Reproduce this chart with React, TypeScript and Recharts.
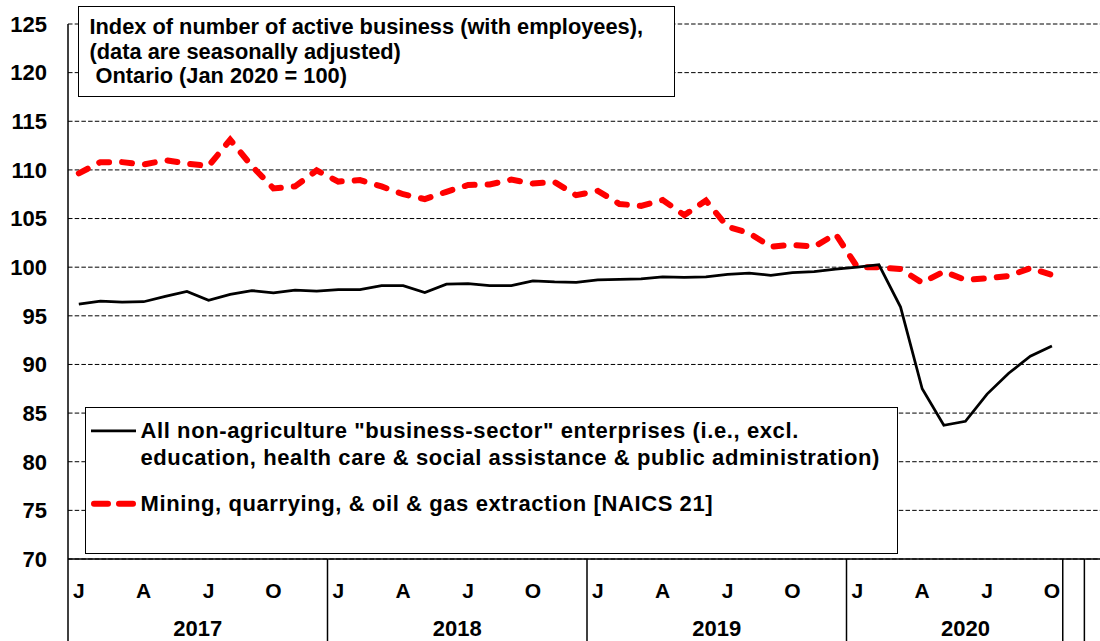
import {
  CartesianGrid,
  Legend,
  Line,
  LineChart,
  XAxis,
  YAxis,
} from "recharts";

// Jan 2017 .. Oct 2020, index Jan 2020 = 100
const allBusiness = [
  96.2, 96.5, 96.4, 96.45, 97.0, 97.5, 96.6, 97.2, 97.6, 97.35, 97.65, 97.55,
  97.7, 97.7, 98.1, 98.1, 97.4, 98.25, 98.3, 98.1, 98.1, 98.6, 98.5, 98.45,
  98.7, 98.75, 98.8, 99.0, 98.95, 99.0, 99.25, 99.4, 99.15, 99.45, 99.55, 99.8,
  100.0, 100.25, 95.9, 87.5, 83.75, 84.15, 86.95, 89.1, 90.85, 91.9,
];

const mining = [
  109.65, 110.8, 110.8, 110.55, 111.0, 110.65, 110.4, 113.1, 110.4, 108.1, 108.3, 109.95,
  108.8, 108.95, 108.3, 107.5, 107.0, 107.75, 108.45, 108.5, 109.0, 108.6, 108.75, 107.4,
  107.85, 106.5, 106.3, 106.9, 105.35, 106.85, 104.15, 103.5, 102.1, 102.3, 102.1, 103.4,
  100.0, 100.0, 99.8, 98.4, 99.55, 98.7, 98.85, 99.1, 99.9, 99.2,
];

const monthLetters = ["J", "F", "M", "A", "M", "J", "J", "A", "S", "O", "N", "D"];
const monthTicks = [0, 3, 6, 9, 12, 15, 18, 21, 24, 27, 30, 33, 36, 39, 42, 45];
const yearLabels = ["2017", "2018", "2019", "2020"];
const yearCenters = [5.5, 17.5, 29.5, 41];
const separators = [-0.5, 11.5, 23.5, 35.5, 45.5, 46.5];
const yTicks = [70, 75, 80, 85, 90, 95, 100, 105, 110, 115, 120, 125];

const titleLines = [
  "Index of number of active business (with employees),",
  "(data are seasonally adjusted)",
  "\u00a0Ontario (Jan 2020 = 100)",
];
const legendAll = [
  'All non-agriculture "business-sector" enterprises (i.e., excl.',
  "education, health care & social assistance & public administration)",
];
const legendMining = "Mining, quarrying, & oil & gas extraction [NAICS 21]";

const data = allBusiness.map((v, i) => ({ i, all: v, mining: mining[i] }));
const xTicks = [...separators, ...monthTicks, ...yearCenters].sort((a, b) => a - b);

const FONT = "Arial, 'Liberation Sans', sans-serif";

function AxisTick(props: any) {
  const { x, y, payload } = props;
  const v = payload.value;
  if (separators.includes(v)) {
    return <line x1={x} x2={x} y1={y} y2={y + 82} stroke="#000" strokeWidth={1.5} />;
  }
  const yi = yearCenters.indexOf(v);
  if (yi >= 0) {
    return (
      <text x={x} y={y + 77} textAnchor="middle" fontFamily={FONT} fontWeight="bold" fontSize={22} fill="#000">
        {yearLabels[yi]}
      </text>
    );
  }
  return (
    <text x={x} y={y + 39} textAnchor="middle" fontFamily={FONT} fontWeight="bold" fontSize={21} fill="#000">
      {monthLetters[v % 12]}
    </text>
  );
}

function LegendBox() {
  const text = {
    fontFamily: FONT,
    fontWeight: 700,
    fontSize: 22,
    letterSpacing: 0.6,
    lineHeight: "27px",
    color: "#000",
  };
  return (
    <div
      style={{
        boxSizing: "border-box",
        width: 813,
        height: 147.5,
        border: "1.5px solid #000",
        background: "#fff",
        padding: "9px 0 0 5.5px",
      }}
    >
      <div style={{ display: "flex" }}>
        <svg width={45} height={27} style={{ flex: "none", marginRight: 4.5 }}>
          <line x1={0} x2={45} y1={13.8} y2={13.8} stroke="#000" strokeWidth={2.75} />
        </svg>
        <div style={text}>
          {legendAll.map((t) => (
            <div key={t} style={{ whiteSpace: "nowrap" }}>{t}</div>
          ))}
        </div>
      </div>
      <div style={{ display: "flex", marginTop: 19.7 }}>
        <svg width={45} height={27} style={{ flex: "none", marginRight: 4.5 }}>
          <line
            x1={3}
            x2={45}
            y1={13.7}
            y2={13.7}
            stroke="#ff0000"
            strokeWidth={6}
            strokeDasharray="14 11"
            strokeLinecap="round"
          />
        </svg>
        <div style={{ ...text, whiteSpace: "nowrap" }}>{legendMining}</div>
      </div>
    </div>
  );
}

export default function App() {
  return (
    <div
      style={{
        position: "fixed",
        left: 0,
        top: 0,
        width: 1100,
        height: 641,
        overflow: "hidden",
        background: "#fff",
      }}
    >
      <LineChart width={1110} height={641} data={data} margin={{ top: 24, right: 4, left: 8, bottom: 0 }}>
        <CartesianGrid
          xAxisId="m"
          vertical={false}
          stroke="#000"
          strokeWidth={1}
          strokeDasharray="4.5 2.2"
        />
        <XAxis
          xAxisId="m"
          dataKey="i"
          type="number"
          domain={[-0.5, 47.5]}
          ticks={xTicks}
          interval={0}
          height={82}
          tickSize={0}
          tickMargin={0}
          tickLine={false}
          axisLine={{ stroke: "#000", strokeWidth: 1.5 }}
          tick={AxisTick}
        />
        <YAxis
          domain={[70, 125]}
          ticks={yTicks}
          interval={0}
          width={60}
          tickSize={0}
          tickMargin={21}
          tickLine={false}
          axisLine={{ stroke: "#000", strokeWidth: 1.5 }}
          tick={{ fontFamily: FONT, fontWeight: "bold", fontSize: 22, fill: "#000" }}
        />
        <Legend
          layout="horizontal"
          verticalAlign="middle"
          align="center"
          content={LegendBox}
          wrapperStyle={{ left: 84.5, top: 406.5, width: 813, height: 147.5 }}
        />
        <Line
          xAxisId="m"
          type="linear"
          dataKey="mining"
          stroke="#ff0000"
          strokeWidth={6}
          strokeDasharray="10 13"
          strokeLinecap="round"
          dot={false}
          isAnimationActive={false}
        />
        <Line
          xAxisId="m"
          type="linear"
          dataKey="all"
          stroke="#000"
          strokeWidth={2.75}
          dot={false}
          isAnimationActive={false}
        />
      </LineChart>
      <div
        style={{
          position: "absolute",
          left: 77.5,
          top: 6,
          width: 597,
          height: 91,
          boxSizing: "border-box",
          border: "1.5px solid #000",
          background: "#fff",
          padding: "8px 0 0 11px",
          fontFamily: FONT,
          fontWeight: 700,
          fontSize: 21.8,
          lineHeight: "24.6px",
          color: "#000",
        }}
      >
        {titleLines.map((t) => (
          <div key={t} style={{ whiteSpace: "pre" }}>{t}</div>
        ))}
      </div>
    </div>
  );
}
